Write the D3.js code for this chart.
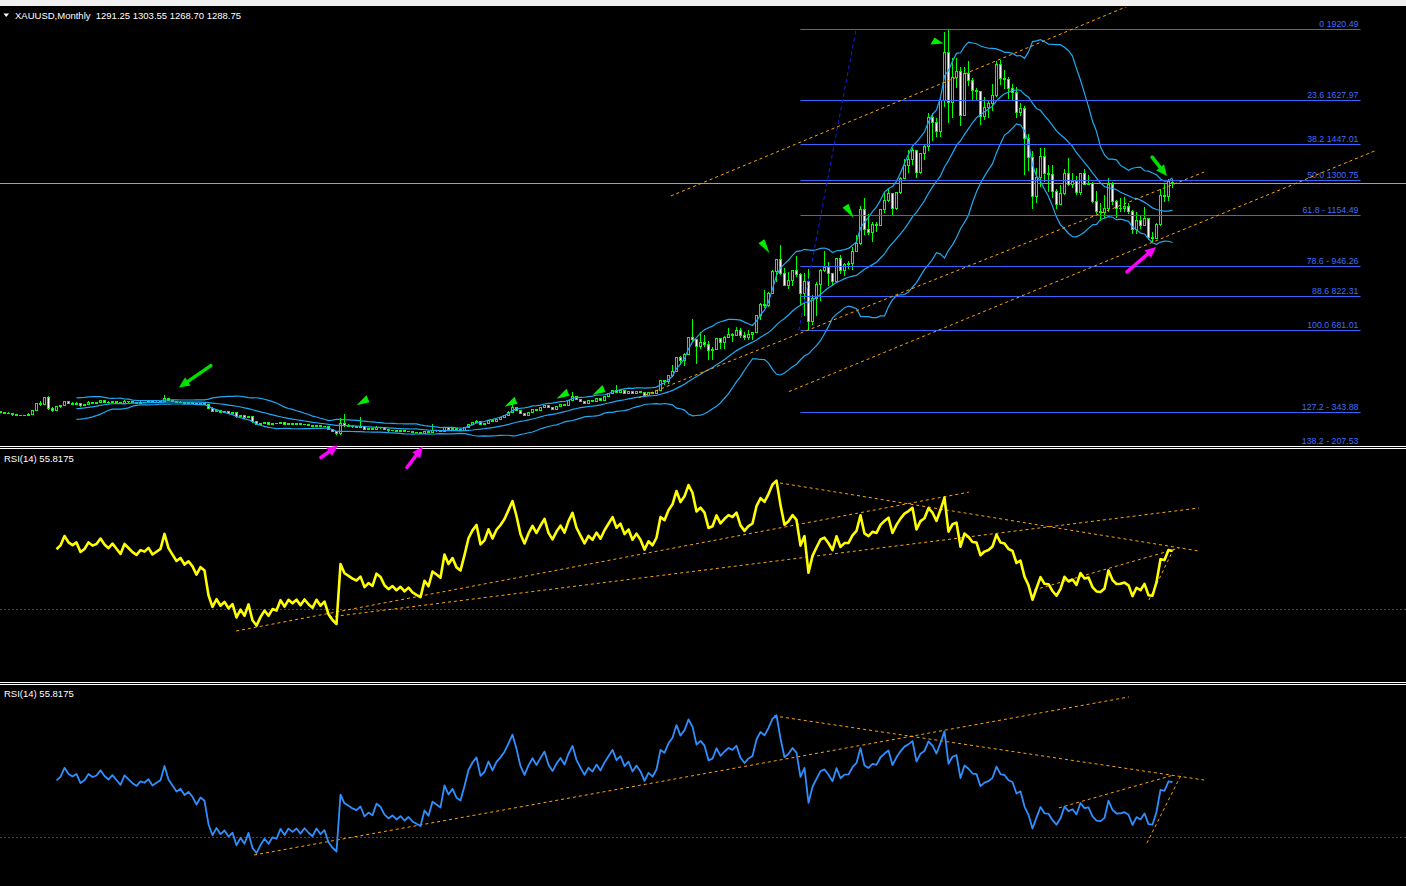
<!DOCTYPE html>
<html><head><meta charset="utf-8">
<script src="https://cdn.jsdelivr.net/npm/d3@7"></script>
<style>html,body{margin:0;padding:0;background:#000;overflow:hidden}svg{display:block}</style>
</head><body><svg id="c" width="1406" height="886"></svg>
<script>
// ---------- DATA ----------
const open = [
347,345,341,339,334,332,331,330,337,351,379,378,405,360,352,366,372,388,381,378,
382,372,376,385,382,384,391,386,383,388,384,380,390,387,384,382,386,385,388,384,
386,388,400,392,388,384,386,382,384,381,376,380,378,360,348,352,345,347,340,342,
326,330,322,328,305,295,300,304,296,300,298,304,296,300,296,298,292,295,290,286,
290,284,286,272,264,258,300,290,287,284,282,285,274,277,274,283,280,272,268,270,
266,268,264,266,262,260,258,266,262,270,268,266,280,274,278,272,270,280,294,302,
308,296,300,312,306,316,322,330,344,362,352,338,330,344,356,350,362,374,362,356,
368,378,372,392,410,396,388,380,392,388,400,394,408,420,434,424,432,422,430,420,
430,424,414,426,422,
433,473,470,495,513,569,556,582,654,643,614,632,624,598,604,646,632,650,665,662,
679,659,650,665,673,743,789,783,834,923,972,917,864,886,926,913,833,884,718,814,
869,928,942,916,884,979,927,954,955,1007,1040,1180,1096,1083,1118,1113,1179,1214,1244,1181,
1248,1307,1358,1386,1421,1332,1410,1439,1556,1536,1500,1628,1825,1620,1722,1746,1566,1738,1710,1669,
1664,1561,1598,1614,1648,1774,1719,1712,1675,1662,1578,1595,1472,1393,1234,1312,1395,1327,1323,1253,
1201,1244,1326,1283,1296,1250,1326,1282,1287,1210,1171,1167,1184,1283,1213,1183,1184,1190,1172,1095,
1132,1115,1142,1065,1061,1118,1238,1233,1291.25];
const high = [
350,347,344,341,336,334,335,340,355,382,392,408,410,366,370,376,392,392,385,386,
384,380,389,388,388,394,393,389,392,390,386,394,392,389,386,389,388,391,390,389,
391,414,404,395,391,389,388,387,386,383,383,382,380,364,356,354,350,349,345,344,
333,332,331,330,308,302,306,306,302,302,306,305,302,301,300,299,297,296,291,292,
291,289,287,274,266,322,339,294,290,287,324,287,280,279,286,285,282,274,273,272,
271,270,268,268,264,262,269,268,294,273,271,282,282,280,279,275,282,296,306,312,
310,302,314,313,318,324,332,348,382,366,354,341,346,358,358,364,376,375,364,370,
380,380,394,427,412,398,389,394,394,402,402,410,422,436,456,434,434,432,431,432,
432,425,428,428,436,
476,478,497,540,570,574,587,655,730,645,675,664,637,612,650,650,657,690,670,694,
692,673,683,676,745,795,848,838,931,975,1033,937,920,904,988,919,919,935,826,880,
933,1006,962,918,981,990,960,965,1024,1072,1195,1227,1162,1127,1127,1181,1249,1265,1246,1251,
1313,1388,1424,1431,1424,1411,1448,1575,1577,1556,1632,1911,1920,1804,1803,1764,1764,1791,1718,1678,
1668,1641,1628,1695,1790,1796,1755,1723,1694,1684,1617,1605,1488,1420,1348,1433,1434,1361,1361,1262,
1280,1345,1392,1331,1315,1326,1345,1322,1290,1256,1207,1238,1307,1294,1219,1225,1232,1205,1175,1170,
1157,1191,1143,1088,1124,1263,1287,1304,1303.55];
const low = [
340,338,336,331,329,328,327,328,335,349,372,376,355,346,349,362,370,378,374,375,
368,369,374,379,380,382,383,380,381,381,377,378,384,381,379,380,382,383,381,382,
384,386,389,385,381,382,379,380,378,373,374,374,357,345,345,342,342,337,338,322,
323,318,320,302,292,292,298,294,294,296,296,294,294,294,294,290,290,288,284,284,
282,282,270,262,252,250,285,283,281,279,280,271,272,271,272,277,270,265,266,264,
264,262,262,260,257,255,256,260,260,265,263,265,272,272,270,268,269,279,292,300,
294,293,299,304,304,314,320,328,342,350,336,328,329,342,348,349,360,360,354,355,
366,370,371,390,394,386,378,379,386,387,392,393,406,418,422,422,420,420,418,419,
422,412,413,420,421,
431,456,460,489,513,538,535,582,632,542,605,612,560,560,604,606,603,649,635,660,
651,640,643,640,672,725,774,778,832,880,910,866,851,862,900,786,740,681,705,742,
801,922,865,866,883,913,904,933,931,1003,1033,1075,1075,1044,1088,1113,1165,1208,1155,1177,
1243,1305,1330,1360,1308,1325,1381,1419,1462,1477,1478,1601,1535,1555,1680,1523,1564,1688,1628,1626,
1527,1547,1556,1585,1641,1693,1673,1635,1626,1555,1562,1321,1338,1180,1207,1273,1291,1251,1226,1182,
1200,1238,1277,1268,1240,1240,1281,1281,1206,1160,1131,1142,1167,1197,1142,1170,1170,1162,1077,1080,
1099,1112,1052,1046,1061,1110,1208,1212,1268.70];
const close = [
345,341,339,334,332,331,330,337,351,379,378,405,360,352,366,372,388,381,378,382,
372,376,385,382,384,391,386,383,388,384,380,390,387,384,382,386,385,388,384,386,
388,400,392,388,384,386,382,384,381,376,380,378,360,348,352,345,347,340,342,326,
330,322,328,305,295,300,304,296,300,298,304,296,300,296,298,292,295,290,286,290,
284,286,272,264,258,300,290,287,284,282,285,274,277,274,283,280,272,268,270,266,
268,264,266,262,260,258,266,262,270,268,266,280,274,278,272,270,280,294,302,308,
296,300,312,306,316,322,330,344,362,352,338,330,344,356,350,362,374,362,356,368,
378,372,392,410,396,388,380,392,388,400,394,408,420,434,424,432,422,430,420,430,
424,414,426,422,433,
473,470,495,513,569,556,582,654,643,614,632,624,598,604,646,632,650,665,662,679,
659,650,665,673,743,789,783,834,923,972,917,864,886,926,913,833,884,718,814,869,
928,942,916,884,979,927,954,955,1007,1040,1180,1096,1083,1118,1113,1179,1214,1244,1181,1248,
1307,1358,1386,1421,1332,1410,1439,1556,1536,1500,1628,1825,1620,1722,1746,1566,1738,1710,1669,1664,
1561,1598,1614,1648,1774,1719,1712,1675,1662,1578,1595,1472,1393,1234,1312,1395,1327,1323,1253,1201,
1244,1326,1283,1296,1250,1326,1282,1287,1210,1171,1167,1184,1283,1213,1183,1184,1190,1172,1095,1132,
1115,1142,1065,1061,1118,1238,1233,1293,1288.75];

const titleSymbol = "XAUUSD,Monthly";
const titleQuote = ["1291.25","1303.55","1268.70","1288.75"];
const rsiLabel = "RSI(14) 55.8175";

const fibPrices = [1920.49,1627.97,1447.01,1300.75,1154.49,946.26,822.31,681.01,343.88,207.53];
const fibLabels = ["0 1920.49","23.6 1627.97","38.2 1447.01","50.0 1300.75","61.8 - 1154.49",
                   "78.6 - 946.26","88.6 822.31","100.0 681.01","127.2 - 343.88","138.2 - 207.53"];
const fibSpan = [200, 340];
const fibBase = [199.6, 681.01, 213.9, 1920.49];

const priceTrends = [[167.6,1234.5,287.1,2051.9],[159.6,404.7,300.9,1333.1],[197.1,429.4,344.1,1423.5]];
const rsi1Trends = [[58.9,20.1,242.1,82.1],[82.1,26.3,299.6,75.0],[193.4,86.6,299.6,55.8],
                    [258.4,38.4,294.6,57.1],[287.1,33.9,293.4,57.1]];
const rsi2Trends = [[63.4,21.6,282.1,95.8],[193.4,86.9,300.9,56.8],[264.6,43.7,293.4,59.2],[286.6,27.2,295.4,60.1]];
const rsiLevel = 30;

const greenArrows = [[52.6,536.2,44.6,445.8],[287.9,1394.7,291.6,1316.7]];
const magentaArrows = [[80.1,158.3,84.4,207.5],[101.6,117.2,105.6,203.4],[281.6,922.3,288.9,1025]];
const markers = [[91,398,0],[128,392,0],[141,425,0],[150,440,0],[191,1032,1],[212,1178,1],[234,1870,2]];

// ---------- CHART ----------
const W = 1406, H = 886, N = close.length;
const svg = d3.select("#c");
svg.append("rect").attr("width", W).attr("height", H).attr("fill", "#000");
svg.append("rect").attr("width", W).attr("height", 6).attr("fill", "#f0f0f0");

const defs = svg.append("defs");
const clip = (id, y0, h) => defs.append("clipPath").attr("id", id).append("rect").attr("x", 0).attr("y", y0).attr("width", W).attr("height", h);
clip("cp", 7, 439); clip("cr1", 450, 232); clip("cr2", 685, 201);

const x = d3.scaleLinear().domain([0, N - 1]).range([0.5, 0.5 + 4 * (N - 1)]);
const y = d3.scaleLinear().domain([207.53, 1920.49]).range([445.5, 29.3]);
const yR1 = d3.scaleLinear().domain([0, 100]).range([676, 452]);
const yR2 = d3.scaleLinear().domain([0, 100]).range([901, 688]);

const gp = svg.append("g").attr("clip-path", "url(#cp)");

gp.append("line").attr("x1", 0).attr("x2", W).attr("y1", Math.round(y(close[N-1])) + 0.5).attr("y2", Math.round(y(close[N-1])) + 0.5)
  .attr("stroke", "#a0a0a0").attr("stroke-width", 1);

const idx = d3.range(N);
const gc = gp.append("g").attr("shape-rendering", "crispEdges");
gc.selectAll("line.w").data(idx).join("line")
  .attr("x1", i => x(i)).attr("x2", i => x(i))
  .attr("y1", i => y(high[i])).attr("y2", i => y(low[i]))
  .attr("stroke", "#00ff00").attr("stroke-width", 1);
gc.selectAll("rect.b").data(idx).join("rect")
  .attr("x", i => x(i) - 1).attr("width", 2)
  .attr("y", i => y(Math.max(open[i], close[i])))
  .attr("height", i => Math.max(0.01, Math.abs(y(open[i]) - y(close[i]))))
  .attr("fill", i => close[i] >= open[i] ? "#000" : "#fff")
  .attr("stroke", "#00ff00").attr("stroke-width", 1);

const bbMid = [], bbUp = [], bbLo = [];
for (let i = 0; i < N; i++) {
  if (i < 19) { bbMid.push(null); bbUp.push(null); bbLo.push(null); continue; }
  const s = close.slice(i - 19, i + 1), m = d3.mean(s);
  const sd = Math.sqrt(d3.mean(s, v => (v - m) * (v - m)));
  bbMid.push(m); bbUp.push(m + 2 * sd); bbLo.push(m - 2 * sd);
}
const bbLine = d3.line().defined(d => d != null).x((d, i) => x(i)).y(d => y(d));
[bbUp, bbMid, bbLo].forEach(a => gp.append("path").attr("d", bbLine(a)).attr("fill", "none")
  .attr("stroke", "#1eaaf2").attr("stroke-width", 1.2));

const gf = gp.append("g");
fibPrices.forEach((p, k) => {
  const yy = Math.round(y(p)) + 0.5;
  gf.append("line").attr("x1", x(fibSpan[0])).attr("x2", x(fibSpan[1])).attr("y1", yy).attr("y2", yy)
    .attr("stroke", "#3366ff").attr("stroke-width", 1);
  gf.append("text").attr("x", x(fibSpan[1]) - 2).attr("y", yy - 2.5).attr("text-anchor", "end")
    .attr("font-family", "Liberation Sans, Arial, sans-serif").attr("font-size", "8.8px")
    .attr("fill", "#3d6dff").text(fibLabels[k]);
});
gf.append("line").attr("x1", x(fibBase[0])).attr("y1", y(fibBase[1])).attr("x2", x(fibBase[2])).attr("y2", y(fibBase[3]))
  .attr("stroke", "#1a1ae6").attr("stroke-width", 1).attr("stroke-dasharray", "4,3");

const dotted = (g, sx, sy, t) => g.append("line").attr("x1", sx(t[0])).attr("y1", sy(t[1])).attr("x2", sx(t[2])).attr("y2", sy(t[3]))
  .attr("stroke", "#ffa500").attr("stroke-width", 1).attr("stroke-dasharray", "3,3");
priceTrends.forEach(t => dotted(gp, x, y, t));

const shapes = [
  [[-8, 6], [2, -4], [5, 3]],
  [[-6, -2], [0, -6], [5, 8]],
  [[-6, 3], [-2, -4], [7, 2]]
];
markers.forEach(m => {
  const cx = x(m[0]), cy = y(m[1]);
  gp.append("path").attr("d", "M" + shapes[m[2]].map(p => (cx + p[0]) + "," + (cy + p[1])).join("L") + "Z").attr("fill", "#00ee00");
});

const rsi = new Array(N).fill(null);
let ag = 0, al = 0;
for (let i = 1; i <= 14; i++) { const d = close[i] - close[i-1]; if (d > 0) ag += d; else al -= d; }
ag /= 14; al /= 14; rsi[14] = al === 0 ? 100 : 100 - 100 / (1 + ag / al);
for (let i = 15; i < N; i++) {
  const d = close[i] - close[i-1];
  ag = (ag * 13 + Math.max(d, 0)) / 14; al = (al * 13 + Math.max(-d, 0)) / 14;
  rsi[i] = al === 0 ? 100 : 100 - 100 / (1 + ag / al);
}

function rsiPanel(clipId, sy, color, width, trends, labelY) {
  const g = svg.append("g").attr("clip-path", "url(#" + clipId + ")");
  const ly = Math.round(sy(rsiLevel)) + 0.5;
  g.append("line").attr("x1", 0).attr("x2", W).attr("y1", ly).attr("y2", ly)
    .attr("stroke", "#b000b0").attr("stroke-width", 1).attr("stroke-dasharray", "2,2");
  trends.forEach(t => dotted(g, x, sy, t));
  g.append("path").attr("d", d3.line().defined(d => d != null).x((d, i) => x(i)).y(d => sy(d))(rsi))
    .attr("fill", "none").attr("stroke", color).attr("stroke-width", width).attr("stroke-linejoin", "round");
  g.append("text").attr("x", 4).attr("y", labelY).attr("font-family", "Liberation Sans, Arial, sans-serif")
    .attr("font-size", "9.5px").attr("fill", "#fff").text(rsiLabel);
}
rsiPanel("cr1", yR1, "#ffff00", 2.6, rsi1Trends, 461.5);
rsiPanel("cr2", yR2, "#2f8fff", 1.8, rsi2Trends, 697);

[446, 448, 682, 684].forEach(v => svg.append("rect").attr("x", 0).attr("y", v).attr("width", W).attr("height", 1).attr("fill", "#fff"));

function arrow(t, color) {
  const x1 = x(t[0]), y1 = y(t[1]), x2 = x(t[2]), y2 = y(t[3]);
  const a = Math.atan2(y2 - y1, x2 - x1), hl = 11, hw = 10;
  const bx = x2 - hl * Math.cos(a), by = y2 - hl * Math.sin(a);
  const px = -Math.sin(a) * hw / 2, py = Math.cos(a) * hw / 2;
  svg.append("line").attr("x1", x1).attr("y1", y1).attr("x2", bx).attr("y2", by)
    .attr("stroke", color).attr("stroke-width", 3.5).attr("stroke-linecap", "round");
  svg.append("path").attr("d", `M${x2},${y2}L${bx + px},${by + py}L${bx - px},${by - py}Z`).attr("fill", color);
}
greenArrows.forEach(t => arrow(t, "#00e000"));
magentaArrows.forEach(t => arrow(t, "#ff00ff"));

svg.append("path").attr("d", "M3.5,13.5L9,13.5L6.25,17Z").attr("fill", "#fff");
svg.append("text").attr("x", 15).attr("y", 19).attr("font-family", "Liberation Sans, Arial, sans-serif")
  .attr("font-size", "9.5px").attr("fill", "#fff").attr("xml:space", "preserve")
  .text(titleSymbol + "  " + titleQuote.join(" "));
</script></body></html>
